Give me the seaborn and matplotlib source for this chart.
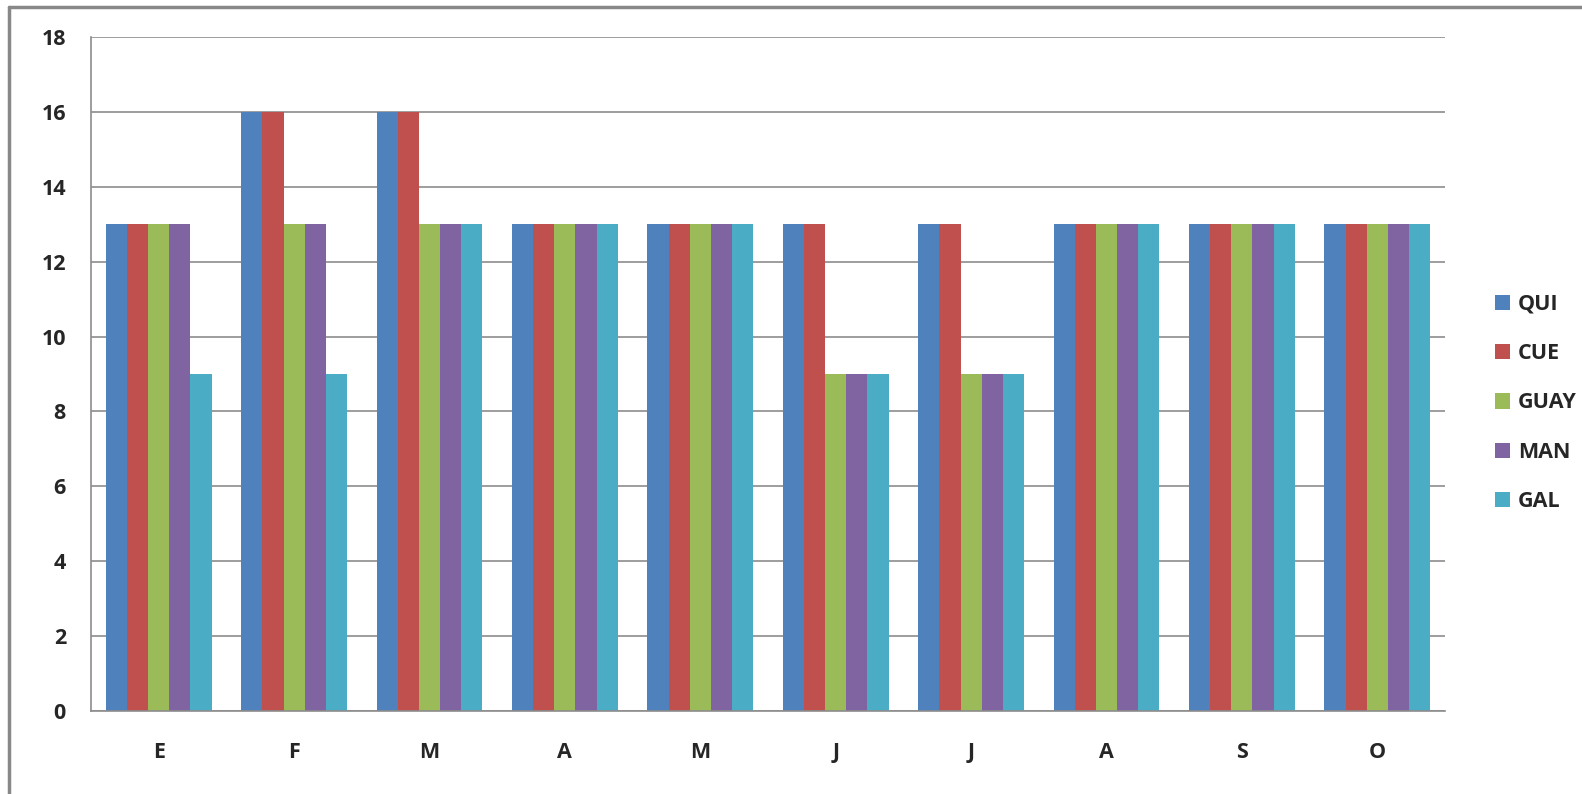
import pandas as pd
import numpy as np
import matplotlib.pyplot as plt
import seaborn as sns

months = ['E', 'F', 'M', 'A', 'M', 'J', 'J', 'A', 'S', 'O']
series = ['QUI', 'CUE', 'GUAY', 'MAN', 'GAL']
qui = [13, 16, 16, 13, 13, 13, 13, 13, 13, 13]
cue = [13, 16, 16, 13, 13, 13, 13, 13, 13, 13]
guay = [13, 13, 13, 13, 13, 9, 9, 13, 13, 13]
man = [13, 13, 13, 13, 13, 9, 9, 13, 13, 13]
gal = [9, 9, 13, 13, 13, 9, 9, 13, 13, 13]
colors = ['#4F81BD', '#C0504D', '#9BBB59', '#8064A2', '#4BACC6']

# long table, month position keeps the two M/J/A apart
rows = []
for name, vals in zip(series, [qui, cue, guay, man, gal]):
    for i, v in enumerate(vals):
        rows.append({'pos': i, 'serie': name, 'valor': v})
df = pd.DataFrame(rows)

sns.set_style('white')
plt.rcParams['font.family'] = ['Open Sans', 'DejaVu Sans']
plt.rcParams['font.weight'] = 'bold'

fig = plt.figure(figsize=(15.82, 7.94), dpi=100)
ax = fig.add_axes([91/1582, 83/794, (1445-91)/1582, (711-37)/794])

sns.barplot(data=df, x='pos', y='valor', hue='serie', palette=colors,
            width=0.78, gap=0, saturation=1, ax=ax, linewidth=0)

grid_c = '#8c8c8c'
ax.set_ylim(0, 18)
ax.set_xlim(-0.5, 9.5)
ax.set_yticks(range(0, 19, 2))
ax.yaxis.grid(True, color=grid_c, linewidth=1.2)
ax.set_axisbelow(True)
ax.set_xticks(range(10))
ax.set_xticklabels(months)
ax.set_xticks(np.arange(-0.5, 10, 1), minor=True)
ax.tick_params(axis='x', which='major', length=0, pad=22, labelsize=15.5)
ax.tick_params(axis='x', which='minor', length=10, width=1.2, color=grid_c, direction='out')
ax.tick_params(axis='y', length=9, width=1.2, color=grid_c, direction='out', pad=9, labelsize=15.5)
ax.set_xlabel('')
ax.set_ylabel('')
for s in ['top', 'right']:
    ax.spines[s].set_visible(False)
for s in ['left', 'bottom']:
    ax.spines[s].set_color(grid_c)
    ax.spines[s].set_linewidth(1.2)

ax.legend(loc='center left', bbox_to_anchor=(1476/1582, 391/794),
          bbox_transform=fig.transFigure, frameon=False, fontsize=15.5,
          handlelength=0.7, handleheight=0.7, handletextpad=0.35, labelspacing=1.32)

# outer chart border (left and top only visible)
fig.add_artist(plt.Line2D([9/1582, 9/1582], [0, 1 - 7/794], color='#888888', linewidth=2.5))
fig.add_artist(plt.Line2D([9/1582, 1], [1 - 7/794, 1 - 7/794], color='#888888', linewidth=2.5))

fig.savefig('out.png', dpi=100)
